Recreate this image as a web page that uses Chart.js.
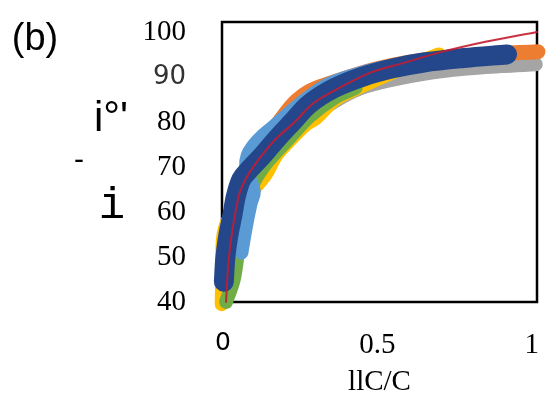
<!DOCTYPE html>
<html>
<head>
<meta charset="utf-8">
<script src="https://cdn.jsdelivr.net/npm/chart.js@4.4.1/dist/chart.umd.min.js"></script>
<style>
  body { margin: 0; background: #fff; }
  #wrap { width: 547px; height: 403px; }
</style>
</head>
<body>
<div id="wrap"><canvas id="chart" width="547" height="403"></canvas></div>
<script>
// Measured curves, [ΔC/C, value] pairs
const fitLine = [[0.01,40],[0.015,46],[0.022,51.5],[0.032,56.5],[0.045,61.5],[0.055,64.5],[0.075,67.5],[0.1,70.2],[0.14,73.8],[0.18,76.8],[0.23,79.8],[0.29,84],[0.37,87.3],[0.48,91],[0.58,93],[0.7,95.4],[0.85,97.8],[1.017,100]];
const darkBlue = [[0.003,44.5],[0.008,50],[0.018,55],[0.03,59],[0.042,63.5],[0.06,67.3],[0.085,69.4],[0.13,72.7],[0.175,76.3],[0.225,80],[0.28,84],[0.36,87.5],[0.45,90],[0.55,91.9],[0.65,93.2],[0.78,94.2],[0.92,95]];
const lightBlue = [[0.06,51],[0.075,57],[0.09,62],[0.1,64.5],[0.085,67.5],[0.075,70],[0.08,72.5],[0.1,74.8],[0.13,77],[0.17,79.3],[0.22,82.3],[0.28,85.6],[0.34,88.3],[0.42,90.3],[0.5,91.8],[0.6,93],[0.7,94]];
const green = [[0.01,40],[0.035,45],[0.05,52],[0.06,58],[0.075,62.5],[0.095,66],[0.13,69.9],[0.175,73.5],[0.225,77.2],[0.28,81.2],[0.36,85.3],[0.43,87.6]];
const yellow = [[-0.004,39.5],[-0.002,47],[0.0,54],[0.015,58],[0.045,61],[0.08,63.5],[0.115,66.3],[0.14,68.5],[0.175,72.8],[0.225,76.5],[0.27,79.5],[0.3,80.8],[0.36,84.8],[0.42,87],[0.5,89.5],[0.6,92.4],[0.7,95]];
const orange = [[0.0,42],[0.01,50],[0.03,57],[0.05,63],[0.08,68],[0.12,73],[0.16,77.8],[0.2,81.7],[0.24,84.8],[0.28,86.8],[0.33,88.2],[0.4,89.8],[0.5,91.8],[0.6,93.2],[0.72,94.3],[0.85,95],[1.02,95.6]];
const gray = [[0.0,42],[0.02,52],[0.05,60],[0.09,66],[0.14,71],[0.2,75.5],[0.28,80.5],[0.36,84.5],[0.45,87.6],[0.55,89.4],[0.65,90.7],[0.78,91.8],[0.9,92.4],[1.013,92.8]];

const xTicks = [0, 0.5, 1];
const yTicks = [40, 50, 60, 70, 80, 90, 100];

const serif = '"Liberation Serif", "Times New Roman", serif';
const sans = '"DejaVu Sans", sans-serif';

// stray glyphs left of the axis
const sideNotes = [
  { text: '(b)', x: 35, y: 50, font: '38px "Liberation Sans"' },
  { text: 'i°\'', x: 111, y: 131, font: '42px "Liberation Sans"' },
  { text: '-', x: 79, y: 169, font: '30px "Liberation Sans"' },
  { text: 'i', x: 112, y: 218, font: '44px "Liberation Mono"' }
];

const toPts = arr => arr.map(p => ({ x: p[0], y: p[1] }));

function band(data, color, width) {
  return {
    data: toPts(data),
    showLine: true,
    borderColor: color,
    backgroundColor: color,
    borderWidth: width,
    borderCapStyle: 'round',
    borderJoinStyle: 'round',
    pointRadius: 0,
    tension: 0.35,
    clip: false
  };
}

const framePlugin = {
  id: 'frame',
  beforeDatasetsDraw(chart) {
    const { ctx, chartArea: a } = chart;
    ctx.save();
    ctx.strokeStyle = '#000';
    ctx.lineWidth = 2.5;
    ctx.strokeRect(a.left, a.top, a.right - a.left, a.bottom - a.top);
    ctx.restore();
  }
};

const notesPlugin = {
  id: 'notes',
  afterDraw(chart) {
    const ctx = chart.ctx;
    ctx.save();
    ctx.fillStyle = '#000';
    ctx.textAlign = 'center';
    ctx.textBaseline = 'alphabetic';
    sideNotes.forEach(n => {
      ctx.font = n.font;
      ctx.fillText(n.text, n.x, n.y);
    });
    ctx.restore();
  }
};

new Chart(document.getElementById('chart'), {
  type: 'scatter',
  data: {
    datasets: [
      band(fitLine, 'rgba(196, 28, 48, 0.9)', 2),
      band(darkBlue, '#24478c', 20),
      band(lightBlue, '#5b9bd5', 14),
      band(green, '#70ad47', 14),
      band(yellow, '#ffc000', 14),
      band(orange, '#ed7d31', 15),
      band(gray, '#a5a5a5', 14)
    ]
  },
  options: {
    responsive: false,
    animation: false,
    layout: { padding: { top: 22, right: 10, left: 0, bottom: 0 } },
    plugins: { legend: { display: false }, tooltip: { enabled: false } },
    scales: {
      x: {
        type: 'linear',
        min: -0.003,
        max: 1.017,
        grid: { display: false, drawTicks: false },
        border: { display: false },
        afterBuildTicks: s => { s.ticks = xTicks.map(v => ({ value: v })); },
        afterFit: s => { s.height = 101; s.paddingLeft = 0; s.paddingRight = 0; },
        ticks: {
          padding: 26,
          color: '#000',
          callback: v => String(v),
          font: c => (c.tick && c.tick.value === 0)
            ? { family: sans, size: 25 }
            : { family: serif, size: 29 }
        },
        title: {
          display: true,
          text: 'llC/C',
          color: '#000',
          font: { family: serif, size: 29 },
          padding: { top: 0, bottom: 3 }
        }
      },
      y: {
        type: 'linear',
        min: 40,
        max: 102.2,
        grid: { display: false, drawTicks: false },
        border: { display: false },
        afterBuildTicks: s => { s.ticks = yTicks.map(v => ({ value: v })); },
        afterFit: s => { s.width = 222; s.paddingTop = 0; s.paddingBottom = 0; },
        ticks: {
          padding: 36,
          color: c => (c.tick && c.tick.value === 90) ? '#333' : '#000',
          callback: v => String(v),
          font: c => (c.tick && c.tick.value === 90)
            ? { family: sans, size: 26 }
            : { family: serif, size: 29 }
        }
      }
    }
  },
  plugins: [framePlugin, notesPlugin]
});
</script>
</body>
</html>
